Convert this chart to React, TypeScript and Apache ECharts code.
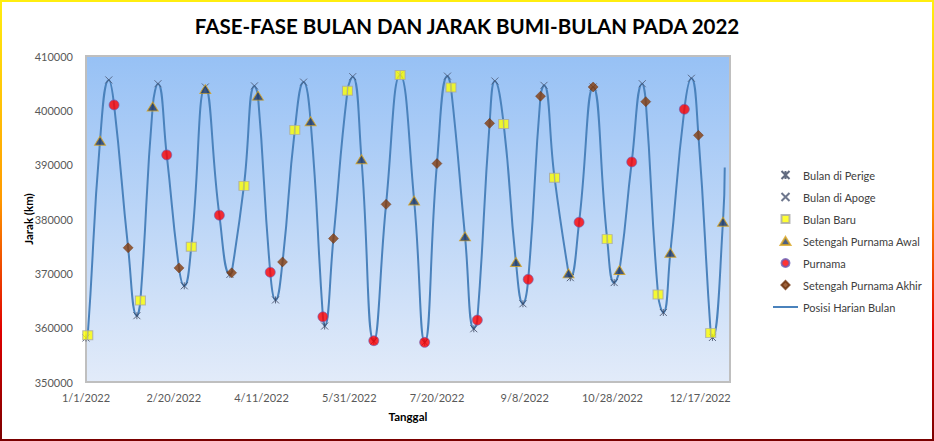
import React, { useEffect, useRef } from 'react';
import * as echarts from 'echarts';

// ---- Data (km) ----
const perigeeDates = ['2022-01-01', '2022-01-30', '2022-02-26', '2022-03-24', '2022-04-19', '2022-05-17', '2022-06-14', '2022-07-13', '2022-08-10', '2022-09-07', '2022-10-04', '2022-10-29', '2022-11-26', '2022-12-24'];
const perigeeKm = [358100, 362200, 367700, 369800, 365100, 360300, 357500, 357300, 359800, 364400, 369200, 368300, 362800, 358200];

const apogeeDates = ['2022-01-14', '2022-02-11', '2022-03-10', '2022-04-07', '2022-05-05', '2022-06-02', '2022-06-29', '2022-07-26', '2022-08-22', '2022-09-19', '2022-10-17', '2022-11-14', '2022-12-12'];
const apogeeKm = [405600, 404900, 404300, 404500, 405200, 406200, 406500, 406300, 405400, 404600, 404300, 404900, 405900];

const newMoonDates = ['2022-01-02', '2022-02-01', '2022-03-02', '2022-04-01', '2022-04-30', '2022-05-30', '2022-06-29', '2022-07-28', '2022-08-27', '2022-09-25', '2022-10-25', '2022-11-23', '2022-12-23'];
const newMoonKm = [358600, 365000, 374900, 386100, 396400, 403600, 406500, 404200, 397500, 387600, 376300, 366100, 359000];

const firstQuarterDates = ['2022-01-09', '2022-02-08', '2022-03-10', '2022-04-09', '2022-05-09', '2022-06-07', '2022-07-07', '2022-08-05', '2022-09-03', '2022-10-03', '2022-11-01', '2022-11-30', '2022-12-30'];
const firstQuarterKm = [394400, 400700, 403900, 402700, 398000, 391000, 383400, 376800, 372100, 370000, 370600, 373800, 379500];

const fullMoonDates = ['2022-01-17', '2022-02-16', '2022-03-18', '2022-04-16', '2022-05-16', '2022-06-14', '2022-07-13', '2022-08-12', '2022-09-10', '2022-10-09', '2022-11-08', '2022-12-08'];
const fullMoonKm = [401000, 391800, 380700, 370200, 362000, 357600, 357300, 361400, 368900, 379400, 390500, 400200];

const lastQuarterDates = ['2022-01-25', '2022-02-23', '2022-03-25', '2022-04-23', '2022-05-22', '2022-06-21', '2022-07-20', '2022-08-19', '2022-09-17', '2022-10-17', '2022-11-16', '2022-12-16'];
const lastQuarterKm = [374700, 371000, 370100, 372100, 376400, 382700, 390200, 397600, 402600, 404300, 401600, 395400];

// end point of the daily curve
const curveEndDates = ['2022-12-31'];
const curveEndKm = [389500];

const seriesNames = ['Bulan di Perige', 'Bulan di Apoge', 'Bulan Baru', 'Setengah Purnama Awal', 'Purnama', 'Setengah Purnama Akhir', 'Posisi Harian Bulan'];
const titleText = 'FASE-FASE BULAN DAN JARAK BUMI-BULAN PADA 2022';

const DAY = 86400000;
const START = Date.UTC(2022, 0, 1);
const toDay = (s: string) =>
  Math.round((Date.UTC(+s.slice(0, 4), +s.slice(5, 7) - 1, +s.slice(8, 10)) - START) / DAY);
const fmtDay = (d: number) => {
  const dt = new Date(START + d * DAY);
  return `${dt.getUTCMonth() + 1}/${dt.getUTCDate()}/${dt.getUTCFullYear()}`;
};
const pairs = (dates: string[], vals: number[]) => dates.map((d, i) => [toDay(d), vals[i]]);

function buildCurve() {
  const m = new Map<number, number>();
  const add = (dates: string[], vals: number[]) =>
    dates.forEach((d, i) => {
      const k = toDay(d);
      if (!m.has(k)) m.set(k, vals[i]);
    });
  add(perigeeDates, perigeeKm);
  add(apogeeDates, apogeeKm);
  add(newMoonDates, newMoonKm);
  add(firstQuarterDates, firstQuarterKm);
  add(fullMoonDates, fullMoonKm);
  add(lastQuarterDates, lastQuarterKm);
  add(curveEndDates, curveEndKm);
  return Array.from(m.entries()).sort((a, b) => a[0] - b[0]);
}

const FONT = 'Lato, "Open Sans", sans-serif';

const SYM_PERIGEE = 'path://M0,0L10,10M10,0L0,10M5,0L5,10';
const SYM_APOGEE = 'path://M0,0L10,10M10,0L0,10';
const SYM_NEW = 'path://M0,0L10,0L10,9L0,9Z M5,0L5,9';
const SYM_NEW_LEGEND = 'path://M0,0L10,0L10,10L0,10Z';
const SYM_TRI = 'path://M5.5,0L11,9L0,9Z';
const SYM_DIAMOND = 'path://M5,0L10,5L5,10L0,5Z';

export default function App() {
  const ref = useRef<HTMLDivElement>(null);
  useEffect(() => {
    document.body.style.margin = '0';
    if (!ref.current) return;
    const chart = echarts.init(ref.current, undefined, { renderer: 'svg' });
    const edgeGrad = new echarts.graphic.LinearGradient(0, 0, 0, 1, [
      { offset: 0, color: '#ffee10' },
      { offset: 0.45, color: '#ff9a00' },
      { offset: 0.75, color: '#e00000' },
      { offset: 1, color: '#7a0000' },
    ]);
    const markerBase = { type: 'scatter', z: 3 } as any;
    chart.setOption({
      animation: false,
      textStyle: { fontFamily: FONT },
      title: {
        text: titleText,
        left: 'center',
        top: 10,
        textStyle: { fontFamily: FONT, fontSize: 20.5, fontWeight: 'bold', color: '#000' },
      },
      legend: {
        orient: 'vertical',
        left: 767,
        top: 163,
        itemWidth: 25,
        itemHeight: 8,
        itemGap: 8,
        symbolKeepAspect: true,
        textStyle: { fontFamily: FONT, fontSize: 11, lineHeight: 14, color: '#404040' },
        data: [
          { name: seriesNames[0] },
          { name: seriesNames[1] },
          { name: seriesNames[2], icon: SYM_NEW_LEGEND },
          { name: seriesNames[3] },
          { name: seriesNames[4] },
          { name: seriesNames[5] },
          { name: seriesNames[6], itemStyle: { opacity: 0 } },
        ],
      },
      grid: {
        left: 86,
        top: 56,
        right: 204,
        bottom: 59,
        show: true,
        borderColor: '#bfbfbf',
        borderWidth: 2,
        backgroundColor: new echarts.graphic.LinearGradient(0, 0, 0, 1, [
          { offset: 0, color: '#97c1f5' },
          { offset: 1, color: '#e2ebf9' },
        ]),
      },
      xAxis: {
        type: 'value',
        min: 0,
        max: 367,
        interval: 50,
        axisLine: { show: false },
        axisTick: { show: false },
        splitLine: { show: false },
        axisLabel: {
          formatter: (v: number) => fmtDay(v),
          color: '#595959',
          fontSize: 11,
          margin: 10,
          showMaxLabel: false,
          fontFamily: FONT,
        },
        name: 'Tanggal',
        nameLocation: 'middle',
        nameGap: 28,
        nameMoveOverlap: false,
        nameTextStyle: { fontWeight: 'bold', fontSize: 11.5, color: '#000', fontFamily: FONT },
      },
      yAxis: {
        type: 'value',
        min: 350000,
        max: 410000,
        interval: 10000,
        axisLine: { show: false },
        axisTick: { show: false },
        splitLine: { show: false },
        axisLabel: { color: '#595959', fontSize: 11, margin: 13, fontFamily: FONT, formatter: (v: number) => String(v) },
        name: 'Jarak (km)',
        nameLocation: 'middle',
        nameGap: 52,
        nameMoveOverlap: false,
        nameTextStyle: { fontWeight: 'bold', fontSize: 11.5, color: '#000', fontFamily: FONT },
      },
      series: [
        {
          ...markerBase,
          name: seriesNames[0],
          symbol: SYM_PERIGEE,
          symbolSize: 7,
          itemStyle: { color: '#3b4660', borderColor: '#3b4660', borderWidth: 1 },
          data: pairs(perigeeDates, perigeeKm),
        },
        {
          ...markerBase,
          name: seriesNames[1],
          symbol: SYM_APOGEE,
          symbolSize: 7,
          itemStyle: { color: '#4a5570', borderColor: '#4a5570', borderWidth: 1 },
          data: pairs(apogeeDates, apogeeKm),
        },
        {
          ...markerBase,
          name: seriesNames[2],
          symbol: SYM_NEW,
          symbolSize: [10, 9],
          itemStyle: { color: '#ffff00', borderColor: '#a6a6a6', borderWidth: 1 },
          data: pairs(newMoonDates, newMoonKm),
        },
        {
          ...markerBase,
          name: seriesNames[3],
          symbol: SYM_TRI,
          symbolSize: [11, 9],
          itemStyle: { color: '#1f3864', borderColor: '#d9a520', borderWidth: 1 },
          data: pairs(firstQuarterDates, firstQuarterKm),
        },
        {
          ...markerBase,
          name: seriesNames[4],
          symbol: 'circle',
          symbolSize: 10,
          itemStyle: { color: '#ff0000', borderColor: '#6b5fb5', borderWidth: 0.8 },
          data: pairs(fullMoonDates, fullMoonKm),
        },
        {
          ...markerBase,
          name: seriesNames[5],
          symbol: SYM_DIAMOND,
          symbolSize: 10,
          itemStyle: { color: '#843c0c', borderColor: '#6a2e08', borderWidth: 0.5 },
          data: pairs(lastQuarterDates, lastQuarterKm),
        },
        {
          type: 'line',
          name: seriesNames[6],
          z: 2,
          smooth: 0.5,
          symbol: 'none',
          lineStyle: { color: '#4a82bc', width: 2 },
          itemStyle: { color: '#4a82bc' },
          data: buildCurve(),
        },
      ],
      graphic: [
        { type: 'rect', shape: { x: 0, y: 0, width: 934, height: 2 }, style: { fill: '#ffee10' }, z: 10 },
        { type: 'rect', shape: { x: 0, y: 439, width: 934, height: 2 }, style: { fill: '#7a0000' }, z: 10 },
        { type: 'rect', shape: { x: 0, y: 0, width: 2, height: 441 }, style: { fill: edgeGrad }, z: 10 },
        { type: 'rect', shape: { x: 932, y: 0, width: 2, height: 441 }, style: { fill: edgeGrad }, z: 10 },
      ],
    });
    return () => chart.dispose();
  }, []);
  return <div ref={ref} style={{ width: 934, height: 441 }} />;
}
